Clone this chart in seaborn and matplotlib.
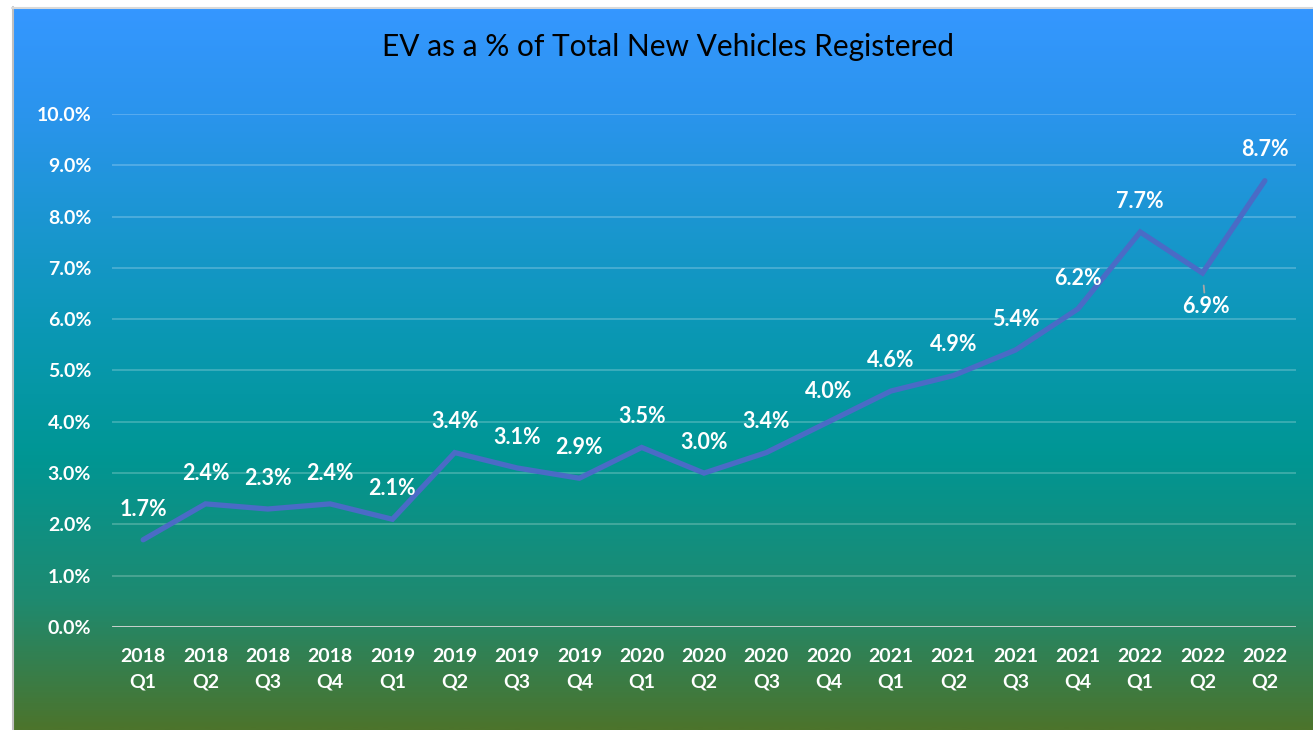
import numpy as np
import matplotlib
matplotlib.use("Agg")
import matplotlib.pyplot as plt
from matplotlib.colors import LinearSegmentedColormap
import seaborn as sns

# data
years = ["2018", "2018", "2018", "2018", "2019", "2019", "2019", "2019", "2020", "2020",
         "2020", "2020", "2021", "2021", "2021", "2021", "2022", "2022", "2022"]
quarters = ["Q1", "Q2", "Q3", "Q4", "Q1", "Q2", "Q3", "Q4", "Q1", "Q2",
            "Q3", "Q4", "Q1", "Q2", "Q3", "Q4", "Q1", "Q2", "Q2"]
ev_share = [1.7, 2.4, 2.3, 2.4, 2.1, 3.4, 3.1, 2.9, 3.5, 3.0,
            3.4, 4.0, 4.6, 4.9, 5.4, 6.2, 7.7, 6.9, 8.7]
tick_labels = [f"{y}\n{q}" for y, q in zip(years, quarters)]

sns.set_theme(style="white")
plt.rcParams["font.family"] = ["Lato", "DejaVu Sans"]

W, H = 1313, 730
fig = plt.figure(figsize=(W / 100, H / 100), dpi=100)
fig.patch.set_facecolor("white")

# gradient background
bg = fig.add_axes([13 / W, 0, 1 - 13 / W, 1 - 8 / H], zorder=-10)
grad = LinearSegmentedColormap.from_list("bg", [
    (0.0, (53 / 255, 151 / 255, 255 / 255)),
    (0.15, (42 / 255, 148 / 255, 236 / 255)),
    (0.45, (10 / 255, 152 / 255, 180 / 255)),
    (0.62, (0 / 255, 150 / 255, 148 / 255)),
    (0.82, (30 / 255, 138 / 255, 112 / 255)),
    (1.0, (76 / 255, 116 / 255, 44 / 255)),
])
bg.imshow(np.linspace(0, 1, 400).reshape(-1, 1), aspect="auto", cmap=grad,
          extent=[0, 1, 0, 1], origin="upper")
bg.set_axis_off()

# frame lines
fig.add_artist(plt.Line2D([12.5 / W, 12.5 / W], [0, 1 - 7 / H], transform=fig.transFigure,
                          color="#bfbfbf", lw=1.5))
fig.add_artist(plt.Line2D([12 / W, 1], [1 - 7.5 / H, 1 - 7.5 / H], transform=fig.transFigure,
                          color="#d9d9d9", lw=1.5))

ax = fig.add_axes([112 / W, 1 - 627 / H, (1296 - 112) / W, (627 - 114) / H])
ax.set_facecolor("none")
x = np.arange(len(ev_share))
sns.lineplot(x=x, y=ev_share, ax=ax, color="#4a6bc6", linewidth=3.8, zorder=3,
             solid_joinstyle="miter")

ax.set_xlim(-0.5, len(ev_share) - 0.5)
ax.set_ylim(0, 10)
ax.set_yticks(np.arange(0, 11, 1))
ax.set_yticklabels([f"{v:.1f}%" for v in range(0, 11)])
ax.set_xticks(x)
ax.set_xticklabels(tick_labels, linespacing=1.6)
ax.tick_params(axis="both", length=0, labelcolor="white", labelsize=14)
ax.tick_params(axis="y", pad=15)
ax.tick_params(axis="x", pad=15)
for lab in ax.get_xticklabels() + ax.get_yticklabels():
    lab.set_fontweight("bold")

for sp in ax.spines.values():
    sp.set_visible(False)
for v in range(1, 11):
    ax.axhline(v, color="white", alpha=0.25, lw=1.2, zorder=1)
ax.axhline(0, color="#d9d9d9", lw=2, zorder=2)

# data labels
for i, v in enumerate(ev_share):
    if i == 17:
        ax.annotate(f"{v:.1f}%", xy=(i, v), xytext=(i + 0.05, v - 0.65),
                    ha="center", va="center", color="white", fontsize=15.5,
                    fontweight="bold",
                    arrowprops=dict(arrowstyle="-", color="#a6a6a6", lw=1.3,
                                    shrinkA=0, shrinkB=9))
    else:
        ax.text(i, v + 0.6, f"{v:.1f}%", ha="center", va="center", color="white",
                fontsize=15.5, fontweight="bold", clip_on=False)

fig.text(668 / W, 1 - 47 / H, "EV as a % of Total New Vehicles Registered", ha="center",
         va="center", fontsize=21.5, color="black")

fig.savefig("out.png", dpi=100)
